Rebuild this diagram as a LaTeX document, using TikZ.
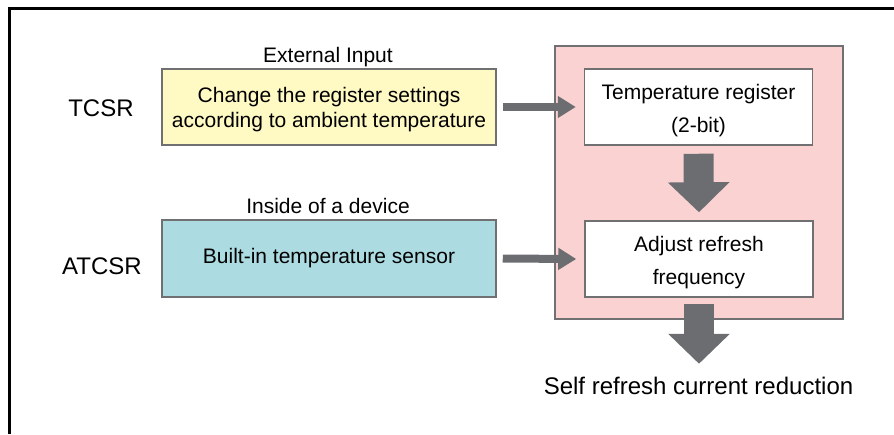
\documentclass[tikz,border=0pt]{standalone}
\usepackage{fontspec}
\setmainfont{Liberation Sans}
\usetikzlibrary{arrows.meta}
\definecolor{boxline}{RGB}{112,112,115}
\definecolor{arrowgray}{RGB}{108,109,113}
\definecolor{inputyellow}{RGB}{255,249,196}
\definecolor{sensorblue}{RGB}{172,220,226}
\definecolor{devicepink}{RGB}{250,210,210}
\begin{document}
\begin{tikzpicture}[x=1pt,y=-1pt,
  box/.style={draw=boxline,line width=1.5pt,inner sep=0pt,align=center,font=\fontsize{21}{25}\selectfont},
  regbox/.style={box,fill=white,minimum width=228pt,minimum height=76pt,font=\fontsize{21}{33}\selectfont,text height=56pt},
  plaintext/.style={font=\fontsize{21}{25}\selectfont,anchor=base,inner sep=0pt},
  bigtext/.style={font=\fontsize{24}{28}\selectfont,anchor=base,inner sep=0pt},
  thinarrow/.style={arrowgray,line width=8pt,-{Triangle[length=18pt,width=21pt]}},
  fatarrow/.style={arrowgray,line width=30pt,-{Triangle[length=30pt,width=60pt]}}]
\useasboundingbox (0,0) rectangle (894,434);
\draw [black,line width=3pt] (9.5,434) -- (9.5,8.5) -- (894,8.5);
% device side
\node [box,fill=devicepink,minimum width=288pt,minimum height=273pt] (device) at (699,182.5) {};
\node [regbox] (reg) at (698.5,107) {Temperature register\\(2-bit)};
\node [regbox] (adj) at (699,259) {Adjust refresh\\frequency};
% inputs
\node [box,fill=inputyellow,minimum width=334pt,minimum height=76pt,text height=46pt] (ext) at (329,107) {Change the register settings\\according to ambient temperature};
\node [box,fill=sensorblue,minimum width=334pt,minimum height=77pt] (sensor) at (329,258.5) {Built-in temperature sensor};
\node [plaintext] (exttitle) at (328,62) {External Input};
\node [plaintext] (sensortitle) at (328,213) {Inside of a device};
\node [bigtext] (tcsr) at (101,116) {TCSR};
\node [bigtext] (atcsr) at (102,274) {ATCSR};
\node [bigtext] (result) at (698.5,394) {Self refresh current reduction};
% arrows
\draw [thinarrow] ([xshift=6pt]ext.east) -- ([xshift=-8pt]reg.west);
\draw [thinarrow] ([xshift=6pt]sensor.east) -- ([xshift=-8pt]adj.west);
\draw [fatarrow] ([yshift=-8pt]reg.south) -- ([yshift=8pt]adj.north);
\draw [fatarrow] ([yshift=-6pt]adj.south) -- ([yshift=-66pt]adj.south);
\end{tikzpicture}
\end{document}
